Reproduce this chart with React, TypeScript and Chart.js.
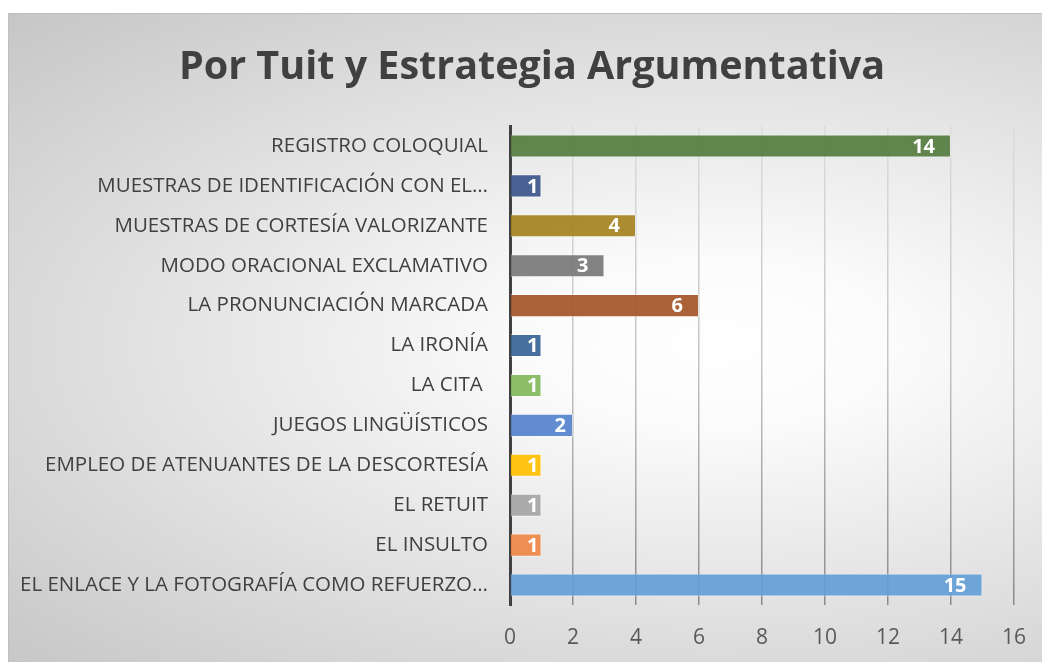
import React, { useEffect, useRef } from "react";
import { Chart, registerables } from "chart.js";

Chart.register(...registerables);

const categories = [
  "REGISTRO COLOQUIAL",
  "MUESTRAS DE IDENTIFICACIÓN CON EL…",
  "MUESTRAS DE CORTESÍA VALORIZANTE",
  "MODO ORACIONAL EXCLAMATIVO",
  "LA PRONUNCIACIÓN MARCADA",
  "LA IRONÍA",
  "LA CITA ",
  "JUEGOS LINGÜÍSTICOS",
  "EMPLEO DE ATENUANTES DE LA DESCORTESÍA",
  "EL RETUIT",
  "EL INSULTO",
  "EL ENLACE Y LA FOTOGRAFÍA COMO REFUERZO…",
];
const values = [14, 1, 4, 3, 6, 1, 1, 2, 1, 1, 1, 15];
const barColors = [
  "rgba(84,125,64,0.92)",
  "rgba(60,85,140,0.92)",
  "rgba(165,130,30,0.92)",
  "rgba(120,120,120,0.92)",
  "rgba(165,85,40,0.92)",
  "rgba(55,100,150,0.92)",
  "rgba(130,185,90,0.92)",
  "rgba(85,130,205,0.92)",
  "rgba(255,192,0,0.92)",
  "rgba(165,165,165,0.92)",
  "rgba(240,135,70,0.92)",
  "rgba(100,160,215,0.92)",
];
const xTicks = [0, 2, 4, 6, 8, 10, 12, 14, 16];
const title = "Por Tuit y Estrategia Argumentativa";

const FONT = "'Open Sans', sans-serif";

const titlePlugin = {
  id: "customTitle",
  afterDraw(chart: any) {
    const { ctx } = chart;
    ctx.save();
    ctx.font = `bold 39.5px ${FONT}`;
    ctx.fillStyle = "#404040";
    ctx.textAlign = "center";
    ctx.textBaseline = "alphabetic";
    ctx.fillText(title, 524, 66);
    ctx.restore();
  },
};

const valueLabels = {
  id: "valueLabels",
  afterDatasetsDraw(chart: any) {
    const { ctx } = chart;
    const meta = chart.getDatasetMeta(0);
    ctx.save();
    ctx.font = `bold 20px ${FONT}`;
    ctx.fillStyle = "#ffffff";
    ctx.textAlign = "right";
    ctx.textBaseline = "middle";
    meta.data.forEach((bar: any, i: number) => {
      const w = bar.x - bar.base;
      const off = w < 40 ? 3 : w < 70 ? 7 : 16;
      ctx.fillText(String(values[i]), bar.x - off, bar.y + 1);
    });
    ctx.restore();
  },
};

export default function App() {
  const ref = useRef<HTMLCanvasElement>(null);
  useEffect(() => {
    if (!ref.current) return;
    const chart = new Chart(ref.current, {
      type: "bar",
      data: {
        labels: categories,
        datasets: [
          {
            data: values,
            backgroundColor: barColors,
            borderColor: "rgba(255,255,255,0.45)",
            borderWidth: 1,
            barPercentage: 0.58,
            categoryPercentage: 1,
          },
        ],
      },
      plugins: [valueLabels, titlePlugin],
      options: {
        indexAxis: "y",
        animation: false,
        responsive: false,
        maintainAspectRatio: false,
        layout: { padding: { left: 0, right: 34, top: 113, bottom: 0 } },
        plugins: {
          legend: { display: false },
          tooltip: { enabled: false },
          title: { display: false },
        },
        scales: {
          x: {
            min: 0,
            max: 16,
            afterBuildTicks(scale: any) {
              scale.ticks = xTicks.map((v) => ({ value: v }));
            },
            afterFit(scale: any) {
              scale.height = 68;
            },
            grid: {
              color: (c: any) => {
                const area = c.chart.chartArea;
                if (!area) return "#cccccc";
                const g = c.chart.ctx.createLinearGradient(0, area.top, 0, area.bottom);
                g.addColorStop(0, "#dcdcdc");
                g.addColorStop(0.5, "#c4c4c4");
                g.addColorStop(1, "#8a8a8a");
                return g;
              },
              lineWidth: 1.5,
              tickLength: 0,
            },
            border: { display: false },
            ticks: {
              color: "#595959",
              font: { family: FONT, size: 21 },
              padding: 20,
            },
          },
          y: {
            afterFit(scale: any) {
              scale.width = 502;
            },
            grid: { display: false, drawOnChartArea: false },
            border: { display: true, color: "#404040", width: 3 },
            ticks: {
              color: "#404040",
              font: { family: FONT, size: 20.5 },
              padding: 14,
              autoSkip: false,
            },
          },
        },
      },
    });
    return () => chart.destroy();
  }, []);
  return (
    <div
      style={{
        position: "fixed",
        left: 8,
        top: 13,
        width: 1040,
        height: 660,
        boxSizing: "border-box",
        borderTop: "1px solid #bfbfbf",
        borderLeft: "1px solid #bfbfbf",
        background:
          "radial-gradient(ellipse at 68% 50%, #ffffff 0%, #fbfbfb 18%, #c6c6c6 100%)",
      }}
    >
      <canvas ref={ref} width={1040} height={660} style={{ position: "absolute", left: -1, top: -1 }} />
    </div>
  );
}
